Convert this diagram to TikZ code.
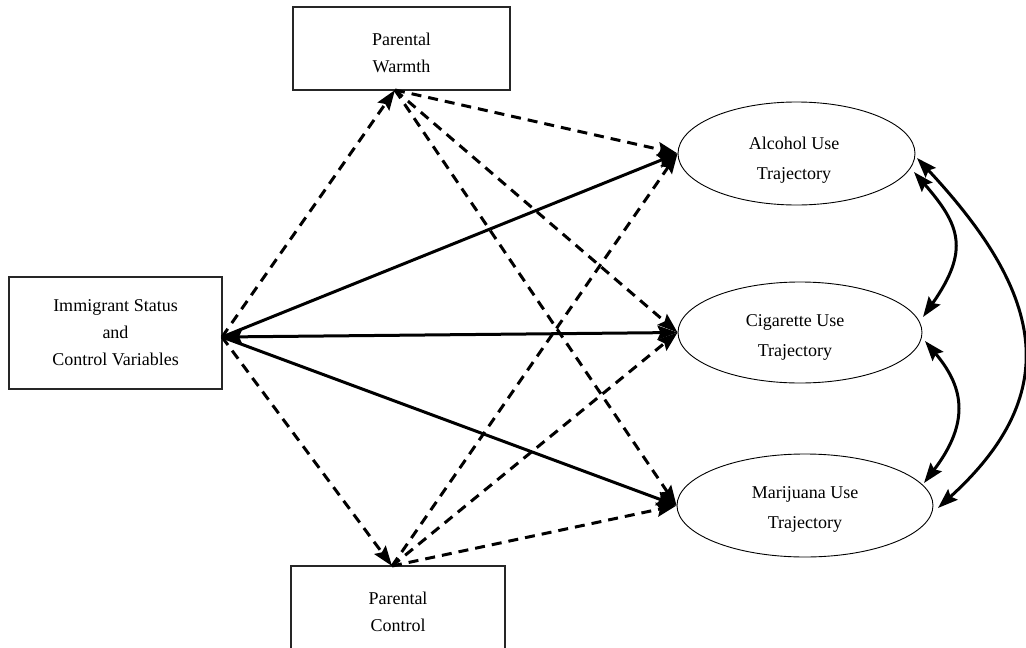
\documentclass[tikz,border=0pt]{standalone}
\usepackage{fontspec}
\setmainfont{Liberation Serif}
\usetikzlibrary{arrows.meta,shapes.geometric}
\begin{document}
\begin{tikzpicture}[x=1pt,y=-1pt,
  box/.style={draw=black!85,line width=1.2pt,rectangle,inner sep=0pt,align=center,font=\fontsize{18}{27}\selectfont},
  oval/.style={draw=black,line width=0.9pt,ellipse,inner sep=0pt},
  lbl/.style={align=center,font=\fontsize{18}{30}\selectfont,inner sep=0pt},
  arrowtip/.style={-{Stealth[length=20pt,width=14pt,inset=3pt]}},
  solidarr/.style={arrowtip,line width=3pt},
  dasharr/.style={arrowtip,line width=3pt,dash pattern=on 10pt off 7pt},
  bothtip/.style={{Stealth[length=20pt,width=14pt,inset=3pt]}-{Stealth[length=20pt,width=14pt,inset=3pt]},line width=3pt}]
\useasboundingbox (0,0) rectangle (1026,648);
\clip (0,0) rectangle (1026,648);

\node[box,minimum width=213pt,minimum height=112pt] (imm) at (115.5,333) {Immigrant Status\\and\\Control Variables};
\node[box,minimum width=217pt,minimum height=83pt] (warm) at (401.5,48.5) {};
\node[lbl,font=\fontsize{18}{27}\selectfont] (warmt) at (401.5,53) {Parental\\Warmth};
\node[box,minimum width=214pt,minimum height=92pt] (ctrl) at (398,612) {Parental\\Control};

\node[oval,minimum width=237pt,minimum height=103pt] (alc) at (796.5,153.5) {};
\node[oval,minimum width=244pt,minimum height=101pt] (cig) at (800,332.5) {};
\node[oval,minimum width=256pt,minimum height=103pt] (mar) at (805,505.5) {};
\node[lbl] (alct) at (794,160) {Alcohol Use\\Trajectory};
\node[lbl] (cigt) at (795,337) {Cigarette Use\\Trajectory};
\node[lbl] (mart) at (805,509) {Marijuana Use\\Trajectory};

\coordinate (ip) at (222,337);
\coordinate (wb) at (395,90);
\coordinate (cb) at (392,566);

\draw[dasharr] (ip) -- (wb);
\draw[dasharr] (ip) -- (cb);
\draw[dasharr] (wb) -- (alc.west);
\draw[dasharr] (wb) -- (cig.west);
\draw[dasharr] (wb) -- (mar.west);
\draw[dasharr] (cb) -- (alc.west);
\draw[dasharr] (cb) -- (cig.west);
\draw[dasharr] (cb) -- (mar.west);

\draw[solidarr] (ip) -- (alc.west);
\draw[bothtip] (ip) -- (cig.west);
\draw[solidarr] (ip) -- (mar.west);

\coordinate (a1) at (914,172);
\coordinate (a2) at (917,158);
\coordinate (c1) at (923,317);
\coordinate (c2) at (925,341);
\coordinate (m1) at (924,483);
\coordinate (m2) at (938,508);
\draw[bothtip] (a1) .. controls (960,225) and (970,250) .. (c1);
\draw[bothtip] (c2) .. controls (962,385) and (972,420) .. (m1);
\draw[bothtip] (a2) .. controls (1040,290) and (1068,390) .. (m2);
\end{tikzpicture}
\end{document}
